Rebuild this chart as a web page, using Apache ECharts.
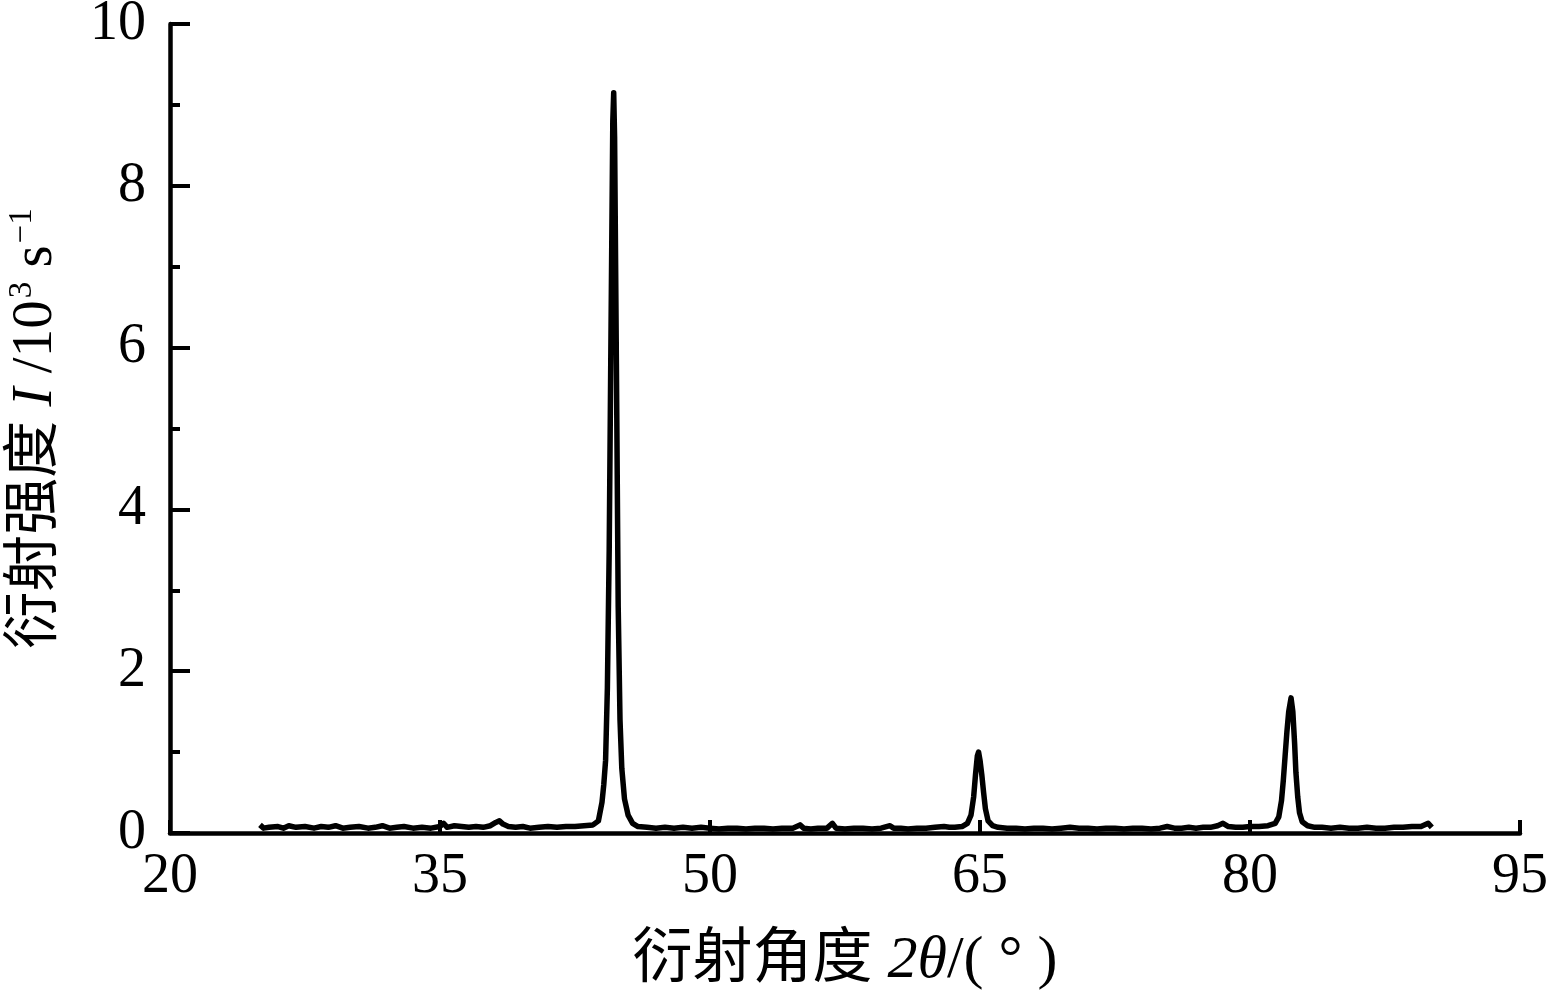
<!DOCTYPE html>
<html>
<head>
<meta charset="utf-8">
<script src="https://cdn.jsdelivr.net/npm/echarts@6/dist/echarts.min.js"></script>
<style>
html,body{margin:0;padding:0;background:#fff;}
#c{width:1561px;height:998px;}
</style>
</head>
<body>
<div id="c"></div>
<script>
// diffraction angle 2θ (degrees)
const angle = [
  25.0,25.2,25.5,26.0,26.3,26.6,27.0,27.5,28.0,28.4,28.8,29.2,29.6,30.0,30.5,31.0,31.4,31.8,32.2,32.6,
  33.0,33.5,34.0,34.5,35.0,35.2,35.4,35.8,36.2,36.6,37.0,37.4,37.8,38.1,38.3,38.5,38.8,39.2,39.6,40.0,
  40.5,41.0,41.5,42.0,42.5,43.0,43.5,43.8,
  44.0,44.1,44.2,44.3,44.4,44.5,44.6,44.65,44.7,44.8,44.9,45.0,45.1,45.25,45.45,45.7,
  46.0,46.5,47.0,47.5,48.0,48.5,49.0,49.5,50.0,50.5,51.0,51.5,52.0,52.5,53.0,53.5,54.0,54.6,55.0,55.2,
  55.6,56.0,56.5,56.8,57.0,57.5,58.0,58.5,59.0,59.5,60.0,60.2,60.6,61.0,61.5,62.0,62.5,63.0,63.3,63.6,
  64.0,64.3,64.5,64.65,64.75,64.85,64.92,65.0,65.1,65.2,65.3,65.45,65.7,
  66.0,66.5,67.0,67.5,68.0,68.5,69.0,69.5,70.0,70.5,71.0,71.5,72.0,72.5,73.0,73.5,74.0,74.5,75.0,75.4,
  75.8,76.2,76.6,77.0,77.4,77.8,78.2,78.5,78.8,79.2,79.6,80.0,80.5,
  81.0,81.4,81.6,81.75,81.85,81.95,82.05,82.15,82.28,82.38,82.48,82.55,82.65,82.75,82.9,83.2,
  83.6,84.0,84.5,85.0,85.5,86.0,86.5,87.0,87.5,88.0,88.5,89.0,89.5,89.9,90.1
];
// diffraction intensity I (10^3 s^-1)
const intensity = [
  0.10,0.06,0.07,0.08,0.06,0.09,0.07,0.08,0.06,0.08,0.07,0.09,0.06,0.07,0.08,0.06,0.07,0.09,0.06,0.07,
  0.08,0.06,0.07,0.06,0.08,0.12,0.07,0.09,0.08,0.07,0.08,0.07,0.09,0.13,0.15,0.11,0.08,0.07,0.08,0.06,
  0.07,0.08,0.07,0.08,0.08,0.09,0.10,0.15,
  0.38,0.60,0.90,1.80,3.50,6.20,8.80,9.15,8.60,5.80,2.80,1.40,0.80,0.42,0.22,0.12,
  0.08,0.07,0.06,0.07,0.06,0.07,0.06,0.07,0.06,0.05,0.06,0.06,0.05,0.06,0.06,0.05,0.06,0.06,0.10,0.06,
  0.05,0.06,0.06,0.12,0.06,0.05,0.06,0.06,0.05,0.06,0.09,0.06,0.06,0.05,0.06,0.06,0.07,0.08,0.07,0.07,
  0.08,0.12,0.22,0.45,0.72,0.95,1.00,0.90,0.72,0.50,0.30,0.15,0.09,
  0.07,0.06,0.06,0.05,0.06,0.06,0.05,0.06,0.07,0.06,0.06,0.05,0.06,0.06,0.05,0.06,0.06,0.05,0.06,0.08,
  0.06,0.06,0.07,0.06,0.07,0.07,0.09,0.12,0.08,0.07,0.07,0.08,0.08,
  0.09,0.12,0.20,0.40,0.65,0.95,1.25,1.50,1.67,1.50,1.10,0.75,0.45,0.25,0.14,0.09,
  0.07,0.07,0.06,0.07,0.06,0.06,0.07,0.06,0.06,0.07,0.07,0.08,0.08,0.12,0.07
];
const xTicks = [20, 35, 50, 65, 80, 95];
const yTicks = [0, 2, 4, 6, 8, 10];

const serif = '"Liberation Serif","Noto Sans CJK SC",serif';
const chart = echarts.init(document.getElementById('c'), null, {renderer: 'canvas'});
const points = angle.map((a, i) => [a, intensity[i]]);

chart.setOption({
  animation: false,
  backgroundColor: '#fff',
  grid: {left: 170, right: 41, top: 24, bottom: 165, containLabel: false, outerBoundsMode: 'none'},
  xAxis: {
    type: 'value',
    min: xTicks[0], max: xTicks[xTicks.length - 1], interval: 15,
    name: '衍射角度 {it|2θ}/( ° )',
    nameLocation: 'middle',
    nameGap: 98,
    nameTextStyle: {
      color: '#000', fontSize: 60, fontFamily: serif,
      rich: {it: {fontStyle: 'italic', fontSize: 60, fontFamily: serif, color: '#000'}}
    },
    axisLine: {onZero: false, lineStyle: {color: '#000', width: 4.5}},
    axisTick: {inside: true, length: 13, lineStyle: {color: '#000', width: 4}},
    minorTick: {show: false},
    splitLine: {show: false},
    axisLabel: {color: '#000', fontSize: 56, fontFamily: serif, margin: 16}
  },
  yAxis: {
    type: 'value',
    min: yTicks[0], max: yTicks[yTicks.length - 1], interval: 2,
    name: '衍射强度 {it|I} /10{sup|3} s{sup|−1}',
    nameLocation: 'middle',
    nameRotate: 90,
    nameGap: 104,
    nameTextStyle: {
      color: '#000', fontSize: 57, fontFamily: serif,
      rich: {
        it: {fontStyle: 'italic', fontSize: 57, fontFamily: serif, color: '#000'},
        sup: {fontSize: 33, fontFamily: serif, color: '#000', verticalAlign: 'top', padding: [0, 0, 27, 2]}
      }
    },
    axisLine: {lineStyle: {color: '#000', width: 4.5}},
    axisTick: {inside: true, length: 20, lineStyle: {color: '#000', width: 4}},
    minorTick: {show: true, splitNumber: 2, length: 10, lineStyle: {color: '#000', width: 4}},
    splitLine: {show: false},
    minorSplitLine: {show: false},
    axisLabel: {color: '#000', fontSize: 56, fontFamily: serif, margin: 24}
  },
  series: [{
    type: 'line',
    data: points,
    showSymbol: false,
    symbol: 'none',
    lineStyle: {color: '#000', width: 5.5, join: 'round'},
    z: 3
  }]
});
</script>
</body>
</html>
